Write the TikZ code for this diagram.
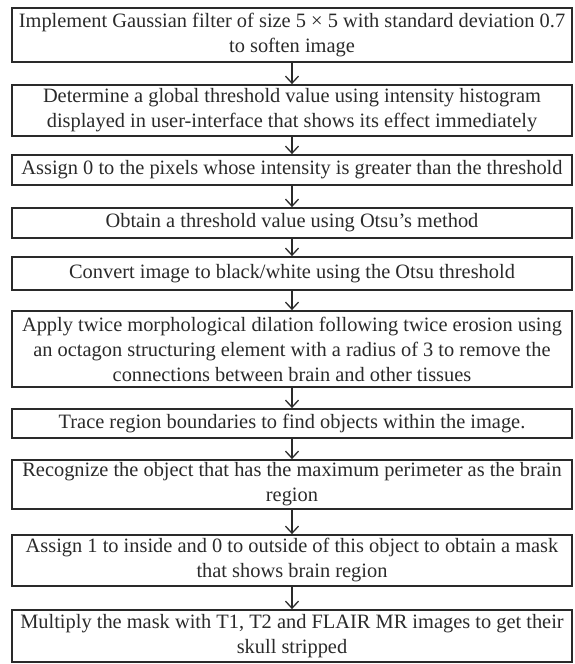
\documentclass[tikz,border=0pt]{standalone}
\usepackage{fontspec}
\setmainfont{Liberation Serif}
\usetikzlibrary{arrows.meta}
\definecolor{ink}{HTML}{2A2A2A}
\tikzset{
  stepbox/.style={draw=ink, line width=1.8pt, text=ink, minimum width=560pt,
    inner xsep=0pt, inner ysep=0pt, align=center,
    font=\fontsize{20.4}{25}\selectfont},
  flowarrow/.style={draw=ink, line width=1.3pt,
    -{Straight Barb[length=7pt,width=13pt,line width=1.3pt]}}
}
\begin{document}
\begin{tikzpicture}[x=1pt,y=1pt]
\useasboundingbox (0,0) rectangle (575,-664);
\node[stepbox, minimum height=54pt] (b1) at (292,-35) {Implement Gaussian filter of size 5 × 5 with standard deviation 0.7\\to soften image};
\node[stepbox, minimum height=51pt] (b2) at (292,-110.5) {Determine a global threshold value using intensity histogram\\displayed in user-interface that shows its effect immediately};
\node[stepbox, minimum height=30pt] (b3) at (292,-170) {Assign 0 to the pixels whose intensity is greater than the threshold};
\node[stepbox, minimum height=30pt] (b4) at (292,-223) {Obtain a threshold value using Otsu’s method};
\node[stepbox, minimum height=33pt] (b5) at (292,-273.5) {Convert image to black/white using the Otsu threshold};
\node[stepbox, minimum height=76pt] (b6) at (292,-349) {Apply twice morphological dilation following twice erosion using\\an octagon structuring element with a radius of 3 to remove the\\connections between brain and other tissues};
\node[stepbox, minimum height=29pt] (b7) at (292,-423.5) {Trace region boundaries to find objects within the image.};
\node[stepbox, minimum height=49pt] (b8) at (292,-484.5) {Recognize the object that has the maximum perimeter as the brain\\region};
\node[stepbox, minimum height=51pt] (b9) at (292,-560.5) {Assign 1 to inside and 0 to outside of this object to obtain a mask\\that shows brain region};
\node[stepbox, minimum height=52pt] (b10) at (292,-636) {Multiply the mask with T1, T2 and FLAIR MR images to get their\\skull stripped};
\foreach \a/\b in {b1/b2,b2/b3,b3/b4,b4/b5,b5/b6,b6/b7,b7/b8,b8/b9,b9/b10}
  \draw[flowarrow] (\a.south) -- (\b.north);
\end{tikzpicture}
\end{document}
